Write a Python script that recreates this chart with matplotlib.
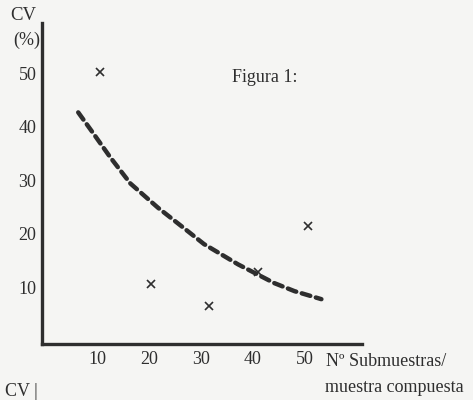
import matplotlib.pyplot as plt

# fitted trend (dashed curve)
curve_x = [6.3, 9.2, 12.5, 16.4, 21.7, 26.7, 30.6, 33.9, 37.2, 44.2, 48.1, 53.3]
curve_y = [42.7, 38.8, 34.3, 29.4, 24.9, 21.1, 18.1, 16.2, 14.3, 10.8, 9.3, 7.8]

# observed points (x marks)
obs_x = [10.5, 20.3, 31.6, 41.0, 50.8]
obs_y = [50.3, 10.6, 6.5, 12.9, 21.4]

x_ticks = [10, 20, 30, 40, 50]
y_ticks = [10, 20, 30, 40, 50]

INK = "#2e2e2e"
BG = "#f5f5f3"
SERIF = ["Liberation Serif", "DejaVu Serif"]
FS = 13


def main():
    plt.rcParams["font.family"] = SERIF

    fig = plt.figure(figsize=(4.73, 4.0), dpi=100, facecolor=BG)
    ax = fig.add_axes([0.0888, 0.141, 0.676, 0.8015])
    ax.set_facecolor(BG)

    ax.plot(
        curve_x,
        curve_y,
        color=INK,
        linewidth=3.2,
        linestyle=(0, (2.0, 1.3)),
        dash_capstyle="round",
    )

    ax.plot(
        obs_x,
        obs_y,
        linestyle="none",
        marker="x",
        markersize=6,
        markeredgewidth=1.2,
        color=INK,
    )

    ax.set_xlim(-0.7, 61.1)
    ax.set_ylim(-0.5, 59.4)

    ax.set_xticks(x_ticks)
    ax.set_yticks(y_ticks)
    ax.tick_params(length=0, labelsize=FS, colors=INK)
    ax.tick_params(axis="x", pad=5)
    ax.tick_params(axis="y", pad=4)

    for side in ["top", "right"]:
        ax.spines[side].set_visible(False)
    for side in ["left", "bottom"]:
        ax.spines[side].set_linewidth(2.4)
        ax.spines[side].set_color(INK)

    fig.text(0.021, 0.962, "CV", fontsize=FS + 0.5, color=INK, va="center")
    fig.text(0.027, 0.900, "(%)", fontsize=FS, color=INK, va="center")
    fig.text(0.49, 0.805, "Figura 1:", fontsize=FS, color=INK, va="center")
    fig.text(0.689, 0.095, "N\u00ba Submuestras/", fontsize=FS, color=INK,
             va="center")
    fig.text(0.687, 0.032, "muestra compuesta", fontsize=FS, color=INK,
             va="center")
    fig.text(0.01, 0.0, "CV |", fontsize=FS, color=INK, va="bottom")

    fig.savefig("out.png", dpi=100, facecolor=BG)
    plt.close(fig)


if __name__ == "__main__":
    main()
